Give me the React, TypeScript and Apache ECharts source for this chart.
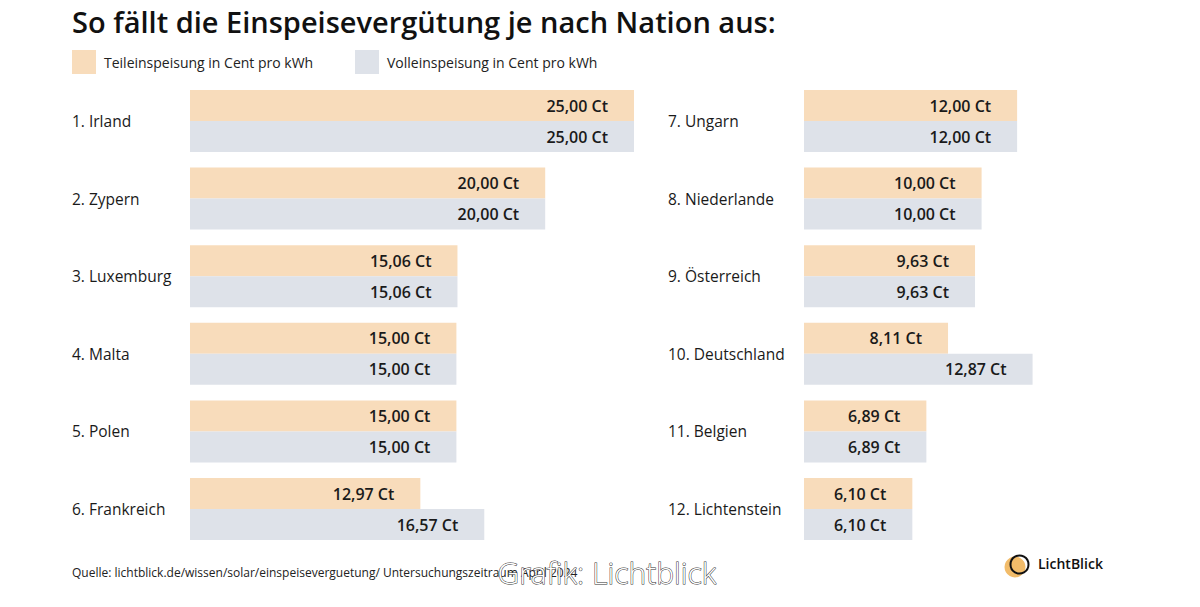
import React, { useEffect, useRef } from "react";
import * as echarts from "echarts";

const countriesLeft = ["1. Irland", "2. Zypern", "3. Luxemburg", "4. Malta", "5. Polen", "6. Frankreich"];
const teilLeft = [25.0, 20.0, 15.06, 15.0, 15.0, 12.97];
const vollLeft = [25.0, 20.0, 15.06, 15.0, 15.0, 16.57];

const countriesRight = ["7. Ungarn", "8. Niederlande", "9. Österreich", "10. Deutschland", "11. Belgien", "12. Lichtenstein"];
const teilRight = [12.0, 10.0, 9.63, 8.11, 6.89, 6.1];
const vollRight = [12.0, 10.0, 9.63, 12.87, 6.89, 6.1];

const seriesNames = ["Teileinspeisung in Cent pro kWh", "Volleinspeisung in Cent pro kWh"];

const TITLE = "So fällt die Einspeisevergütung je nach Nation aus:";
const SOURCE = "Quelle: lichtblick.de/wissen/solar/einspeiseverguetung/ Untersuchungszeitraum April 2024";
const CREDIT = "Grafik: Lichtblick";
const LOGO_TEXT = "LichtBlick";

const FONT = "'Open Sans', 'Noto Sans', sans-serif";
const ORANGE = "#F8DCBB";
const GREY = "#DEE2E9";
const PX_PER_UNIT = 17.76;

export default function App() {
  const ref = useRef<HTMLDivElement>(null);

  useEffect(() => {
    if (!ref.current) return;
    const chart = echarts.init(ref.current, undefined, { renderer: "svg" });

    const fmt = (p: any) => p.value.toFixed(2).replace(".", ",") + " Ct";
    const label = {
      show: true,
      position: "insideRight" as const,
      distance: 26,
      formatter: fmt,
      color: "#1a1a1a",
      fontFamily: FONT,
      fontSize: 16,
      fontWeight: 600,
    };

    const gridTop = 82.2;
    const gridHeight = 465.6;
    const leftMax = 25;
    const rightMax = 13;

    const mkSeries = (name: string, data: number[], idx: number, color: string) => ({
      type: "bar",
      name,
      data,
      xAxisIndex: idx,
      yAxisIndex: idx,
      barWidth: 31,
      barGap: "0%",
      itemStyle: { color },
      label,
      silent: true,
    });

    const yAxisBase = {
      type: "category" as const,
      inverse: true,
      axisLine: { show: false },
      axisTick: { show: false },
      splitLine: { show: false },
    };

    chart.setOption({
      animation: false,
      backgroundColor: "#ffffff",
      textStyle: { fontFamily: FONT },
      title: {
        text: TITLE,
        left: 72,
        top: 7,
        padding: 0,
        textStyle: { fontFamily: FONT, fontSize: 29, fontWeight: 600, color: "#111" },
      },
      legend: [
        {
          data: [seriesNames[0]],
          left: 72,
          top: 50,
          padding: 0,
          itemWidth: 24,
          itemHeight: 24,
          icon: "rect",
          selectedMode: false,
          textStyle: { fontFamily: FONT, fontSize: 14, color: "#222", padding: [0, 0, 0, 3] },
        },
        {
          data: [seriesNames[1]],
          left: 355,
          top: 50,
          padding: 0,
          itemWidth: 24,
          itemHeight: 24,
          icon: "rect",
          selectedMode: false,
          textStyle: { fontFamily: FONT, fontSize: 14, color: "#222", padding: [0, 0, 0, 3] },
        },
      ],
      grid: [
        { left: 190, top: gridTop, width: leftMax * PX_PER_UNIT, height: gridHeight },
        { left: 804, top: gridTop, width: rightMax * PX_PER_UNIT, height: gridHeight },
      ],
      xAxis: [
        { type: "value", gridIndex: 0, min: 0, max: leftMax, show: false },
        { type: "value", gridIndex: 1, min: 0, max: rightMax, show: false },
      ],
      yAxis: [
        {
          ...yAxisBase,
          gridIndex: 0,
          data: countriesLeft,
          axisLabel: { align: "left", margin: 118, fontFamily: FONT, fontSize: 15.5, color: "#1a1a1a" },
        },
        {
          ...yAxisBase,
          gridIndex: 1,
          data: countriesRight,
          axisLabel: { align: "left", margin: 136, fontFamily: FONT, fontSize: 15.5, color: "#1a1a1a" },
        },
      ],
      series: [
        mkSeries(seriesNames[0], teilLeft, 0, ORANGE),
        mkSeries(seriesNames[1], vollLeft, 0, GREY),
        mkSeries(seriesNames[0], teilRight, 1, ORANGE),
        mkSeries(seriesNames[1], vollRight, 1, GREY),
      ],
      graphic: [
        {
          type: "text",
          left: 72,
          top: 566,
          style: { text: SOURCE, fontFamily: FONT, fontSize: 12, fill: "#222" },
        },
        {
          type: "text",
          left: 497,
          top: 557,
          z: 10,
          style: {
            text: CREDIT,
            fontFamily: FONT,
            fontSize: 30,
            fontWeight: 300,
            fill: "#ffffff",
            stroke: "#333333",
            lineWidth: 1,
          },
        },
        {
          type: "circle",
          shape: { cx: 1015, cy: 567, r: 10.5 },
          style: { fill: "#F2BC6A" },
        },
        {
          type: "circle",
          shape: { cx: 1019.5, cy: 564.5, r: 9 },
          style: { fill: "none", stroke: "#111", lineWidth: 2 },
        },
        {
          type: "text",
          left: 1038,
          top: 556,
          style: { text: LOGO_TEXT, fontFamily: FONT, fontSize: 14, fontWeight: 600, fill: "#111" },
        },
      ],
    });

    return () => chart.dispose();
  }, []);

  return (
    <div
      ref={ref}
      style={{ position: "absolute", left: 0, top: 0, width: 1200, height: 607 }}
    />
  );
}
